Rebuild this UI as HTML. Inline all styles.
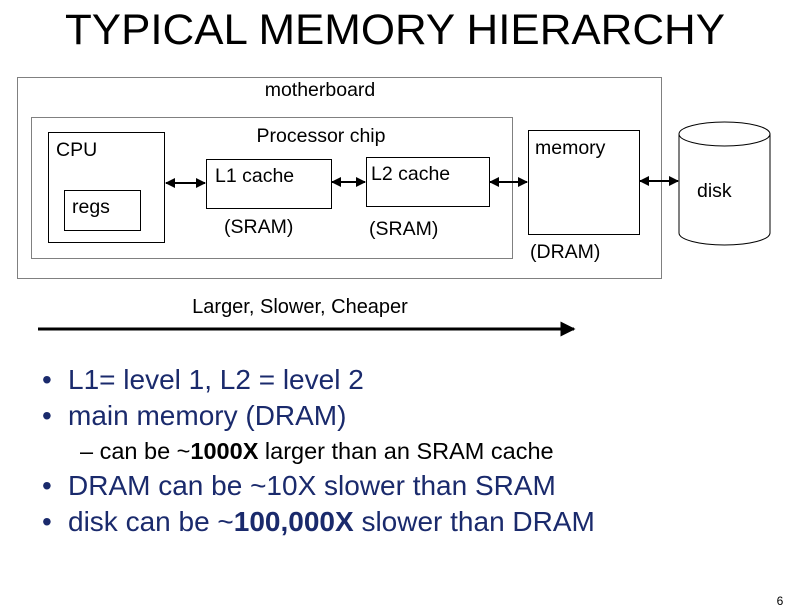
<!DOCTYPE html>
<html><head><style>body{margin:0;background:#fff}svg{display:block}</style></head><body>
<svg width="792" height="612" xmlns="http://www.w3.org/2000/svg" font-family="Liberation Sans, Arial, sans-serif">
<defs>
<marker id="a" viewBox="0 0 10 10" refX="9" refY="5" markerWidth="5" markerHeight="5" orient="auto-start-reverse"><path d="M0,0L10,5L0,10z" fill="#000"/></marker>
</defs>
<text x="395" y="44" font-size="43" text-anchor="middle" textLength="660" lengthAdjust="spacingAndGlyphs">TYPICAL MEMORY HIERARCHY</text>
<rect x="17.5" y="77.5" width="644" height="201" fill="none" stroke="#000" stroke-dasharray="1,1"/>
<text x="320" y="96" font-size="19.5" text-anchor="middle">motherboard</text>
<rect x="31.5" y="117.5" width="481" height="141" fill="none" stroke="#000" stroke-dasharray="1,1"/>
<text x="321" y="142" font-size="19.5" text-anchor="middle">Processor chip</text>
<rect x="48.5" y="132.5" width="116" height="110" fill="none" stroke="#000"/>
<text x="56" y="156" font-size="19.5">CPU</text>
<rect x="64.5" y="190.5" width="76" height="40" fill="none" stroke="#000"/>
<text x="72" y="213" font-size="19.5">regs</text>
<rect x="206.5" y="159.5" width="125" height="49" fill="none" stroke="#000"/>
<text x="215" y="182" font-size="19.5">L1 cache</text>
<text x="224" y="233" font-size="19.5">(SRAM)</text>
<rect x="366.5" y="157.5" width="123" height="49" fill="none" stroke="#000"/>
<text x="371" y="180" font-size="19.5">L2 cache</text>
<text x="369" y="235" font-size="19.5">(SRAM)</text>
<rect x="528.5" y="130.5" width="111" height="104" fill="none" stroke="#000"/>
<text x="535" y="154" font-size="19.5">memory</text>
<text x="530" y="258" font-size="19.5">(DRAM)</text>
<path d="M679,134 L679,233 A45.5,12 0 0 0 770,233 L770,134" fill="none" stroke="#000"/>
<ellipse cx="724.5" cy="134" rx="45.5" ry="12" fill="none" stroke="#000"/>
<text x="697" y="197" font-size="19.5">disk</text>
<g stroke="#000" stroke-width="2" marker-start="url(#a)" marker-end="url(#a)">
<line x1="166" y1="183" x2="205" y2="183"/>
<line x1="332" y1="182" x2="365" y2="182"/>
<line x1="490" y1="182" x2="527" y2="182"/>
<line x1="640" y1="181" x2="678" y2="181"/>
</g>
<text x="300" y="313" font-size="20" text-anchor="middle">Larger, Slower, Cheaper</text>
<line x1="38" y1="329" x2="574" y2="329" stroke="#000" stroke-width="3" marker-end="url(#a)"/>
<g font-size="28" fill="#1a2a6c">
<text x="42" y="389">•</text><text x="68" y="389">L1= level 1, L2 = level 2</text>
<text x="42" y="425">•</text><text x="68" y="425">main memory (DRAM)</text>
<text x="42" y="495">•</text><text x="68" y="495">DRAM can be ~10X slower than SRAM</text>
<text x="42" y="531">•</text><text x="68" y="531">disk can be ~<tspan font-weight="bold">100,000X</tspan> slower than DRAM</text>
</g>
<text x="80" y="459" font-size="23.5">– can be ~<tspan font-weight="bold">1000X</tspan> larger than an SRAM cache</text>
<text x="780" y="605" font-size="12" text-anchor="middle">6</text>
</svg>
</body></html>
